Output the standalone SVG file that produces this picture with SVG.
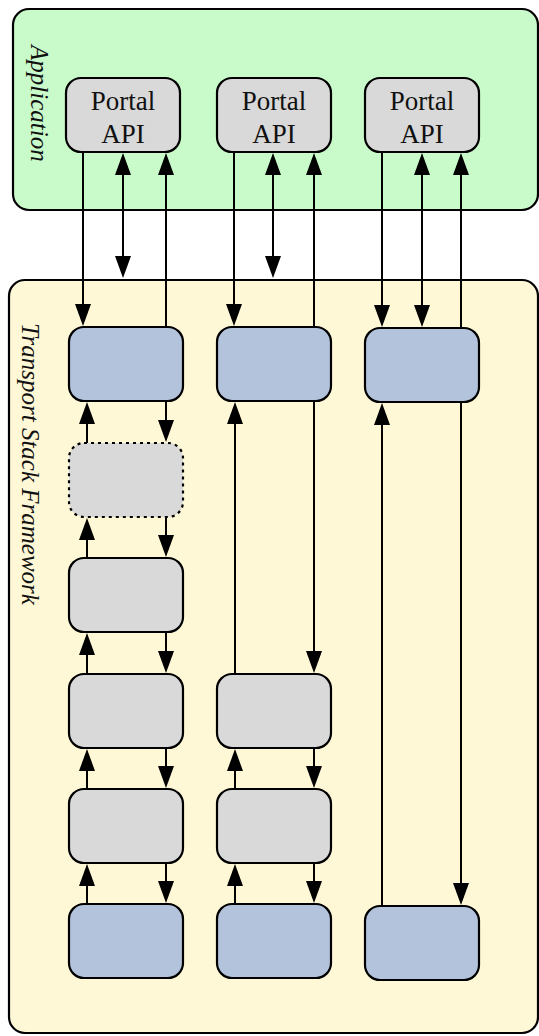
<svg xmlns="http://www.w3.org/2000/svg" width="539" height="1036" viewBox="0 0 539 1036">
  <style>
    .frame { stroke: #000; stroke-width: 2.2; }
    .app { fill: #c9fac9; }
    .tsf { fill: #fff8d6; }
    .node { stroke: #000; stroke-width: 2.2; }
    .portal { fill: #d9d9d9; }
    .gray { fill: #d9d9d9; }
    .blue { fill: #b4c3dc; }
    .opt { fill: #d9d9d9; stroke-dasharray: 3 4; }
    .lbl { font-family: "Liberation Serif", "Times New Roman", serif; font-size: 27px; fill: #111; text-anchor: middle; }
    .side { font-family: "Liberation Serif", "Times New Roman", serif; font-size: 25px; font-style: italic; fill: #111; }
    #connectors path { fill: none; stroke: #000; stroke-width: 2; }
    .a { marker-end: url(#head); }
    .ab { marker-start: url(#head); marker-end: url(#head); }
  </style>
  <defs>
    <marker id="head" markerUnits="userSpaceOnUse" markerWidth="22" markerHeight="16" viewBox="0 0 22 16" refX="19" refY="8" orient="auto-start-reverse">
      <path d="M0,0 L22,8 L0,16 z" fill="#000"/>
    </marker>
  </defs>

  <!-- containers -->
  <g id="application">
    <rect class="frame app" x="13" y="9" width="525" height="201" rx="16"/>
    <text class="side" transform="translate(31,45) rotate(90)">Application</text>
  </g>
  <g id="transport-stack-framework">
    <rect class="frame tsf" x="9" y="280" width="529" height="753" rx="16"/>
    <text class="side" transform="translate(22,323) rotate(90)">Transport Stack Framework</text>
  </g>

  <!-- portal API nodes -->
  <g id="portal-1">
    <rect class="node portal" x="66" y="78" width="114" height="74" rx="15"/>
    <text class="lbl" x="123" y="109.5">Portal</text>
    <text class="lbl" x="123" y="143">API</text>
  </g>
  <g id="portal-2">
    <rect class="node portal" x="217" y="78" width="114" height="74" rx="15"/>
    <text class="lbl" x="274" y="109.5">Portal</text>
    <text class="lbl" x="274" y="143">API</text>
  </g>
  <g id="portal-3">
    <rect class="node portal" x="365" y="78" width="114" height="74" rx="15"/>
    <text class="lbl" x="422" y="109.5">Portal</text>
    <text class="lbl" x="422" y="143">API</text>
  </g>

  <!-- stack 1 -->
  <g id="s1-top"><rect class="node blue" x="69" y="327" width="114" height="74" rx="15"/></g>
  <g id="s1-optional"><rect class="node opt" x="69" y="443" width="114" height="74" rx="15"/></g>
  <g id="s1-l3"><rect class="node gray" x="69" y="558" width="114" height="74" rx="15"/></g>
  <g id="s1-l4"><rect class="node gray" x="69" y="674" width="114" height="74" rx="15"/></g>
  <g id="s1-l5"><rect class="node gray" x="69" y="789" width="114" height="74" rx="15"/></g>
  <g id="s1-bottom"><rect class="node blue" x="69" y="904" width="114" height="74" rx="15"/></g>

  <!-- stack 2 -->
  <g id="s2-top"><rect class="node blue" x="217" y="327" width="114" height="74" rx="15"/></g>
  <g id="s2-l4"><rect class="node gray" x="217" y="674" width="114" height="74" rx="15"/></g>
  <g id="s2-l5"><rect class="node gray" x="217" y="789" width="114" height="74" rx="15"/></g>
  <g id="s2-bottom"><rect class="node blue" x="217" y="904" width="114" height="74" rx="15"/></g>

  <!-- stack 3 -->
  <g id="s3-top"><rect class="node blue" x="365" y="328" width="114" height="74" rx="15"/></g>
  <g id="s3-bottom"><rect class="node blue" x="365" y="906" width="114" height="74" rx="15"/></g>

  <!-- connectors: each path ends 3px short of its arrow tip -->
  <g id="connectors">
    <!-- stack 1 -->
    <path class="a" d="M83,152 V323"/>
    <path class="ab" d="M123,156 V275"/>
    <path class="a" d="M166,327 V156"/>
    <path class="a" d="M166,401 V439"/>
    <path class="a" d="M166,517 V554"/>
    <path class="a" d="M166,632 V670"/>
    <path class="a" d="M166,748 V785"/>
    <path class="a" d="M166,863 V900"/>
    <path class="a" d="M87,443 V405"/>
    <path class="a" d="M87,558 V521"/>
    <path class="a" d="M87,674 V636"/>
    <path class="a" d="M87,789 V752"/>
    <path class="a" d="M87,904 V867"/>
    <!-- stack 2 -->
    <path class="a" d="M234,152 V323"/>
    <path class="ab" d="M273,156 V275"/>
    <path class="a" d="M314,327 V156"/>
    <path class="a" d="M235,674 V405"/>
    <path class="a" d="M314,401 V670"/>
    <path class="a" d="M314,748 V785"/>
    <path class="a" d="M314,863 V900"/>
    <path class="a" d="M235,789 V752"/>
    <path class="a" d="M235,904 V867"/>
    <!-- stack 3 -->
    <path class="a" d="M382,152 V324"/>
    <path class="ab" d="M422,156 V324"/>
    <path class="a" d="M461,328 V156"/>
    <path class="a" d="M382,906 V406"/>
    <path class="a" d="M461,402 V902"/>
  </g>
</svg>
